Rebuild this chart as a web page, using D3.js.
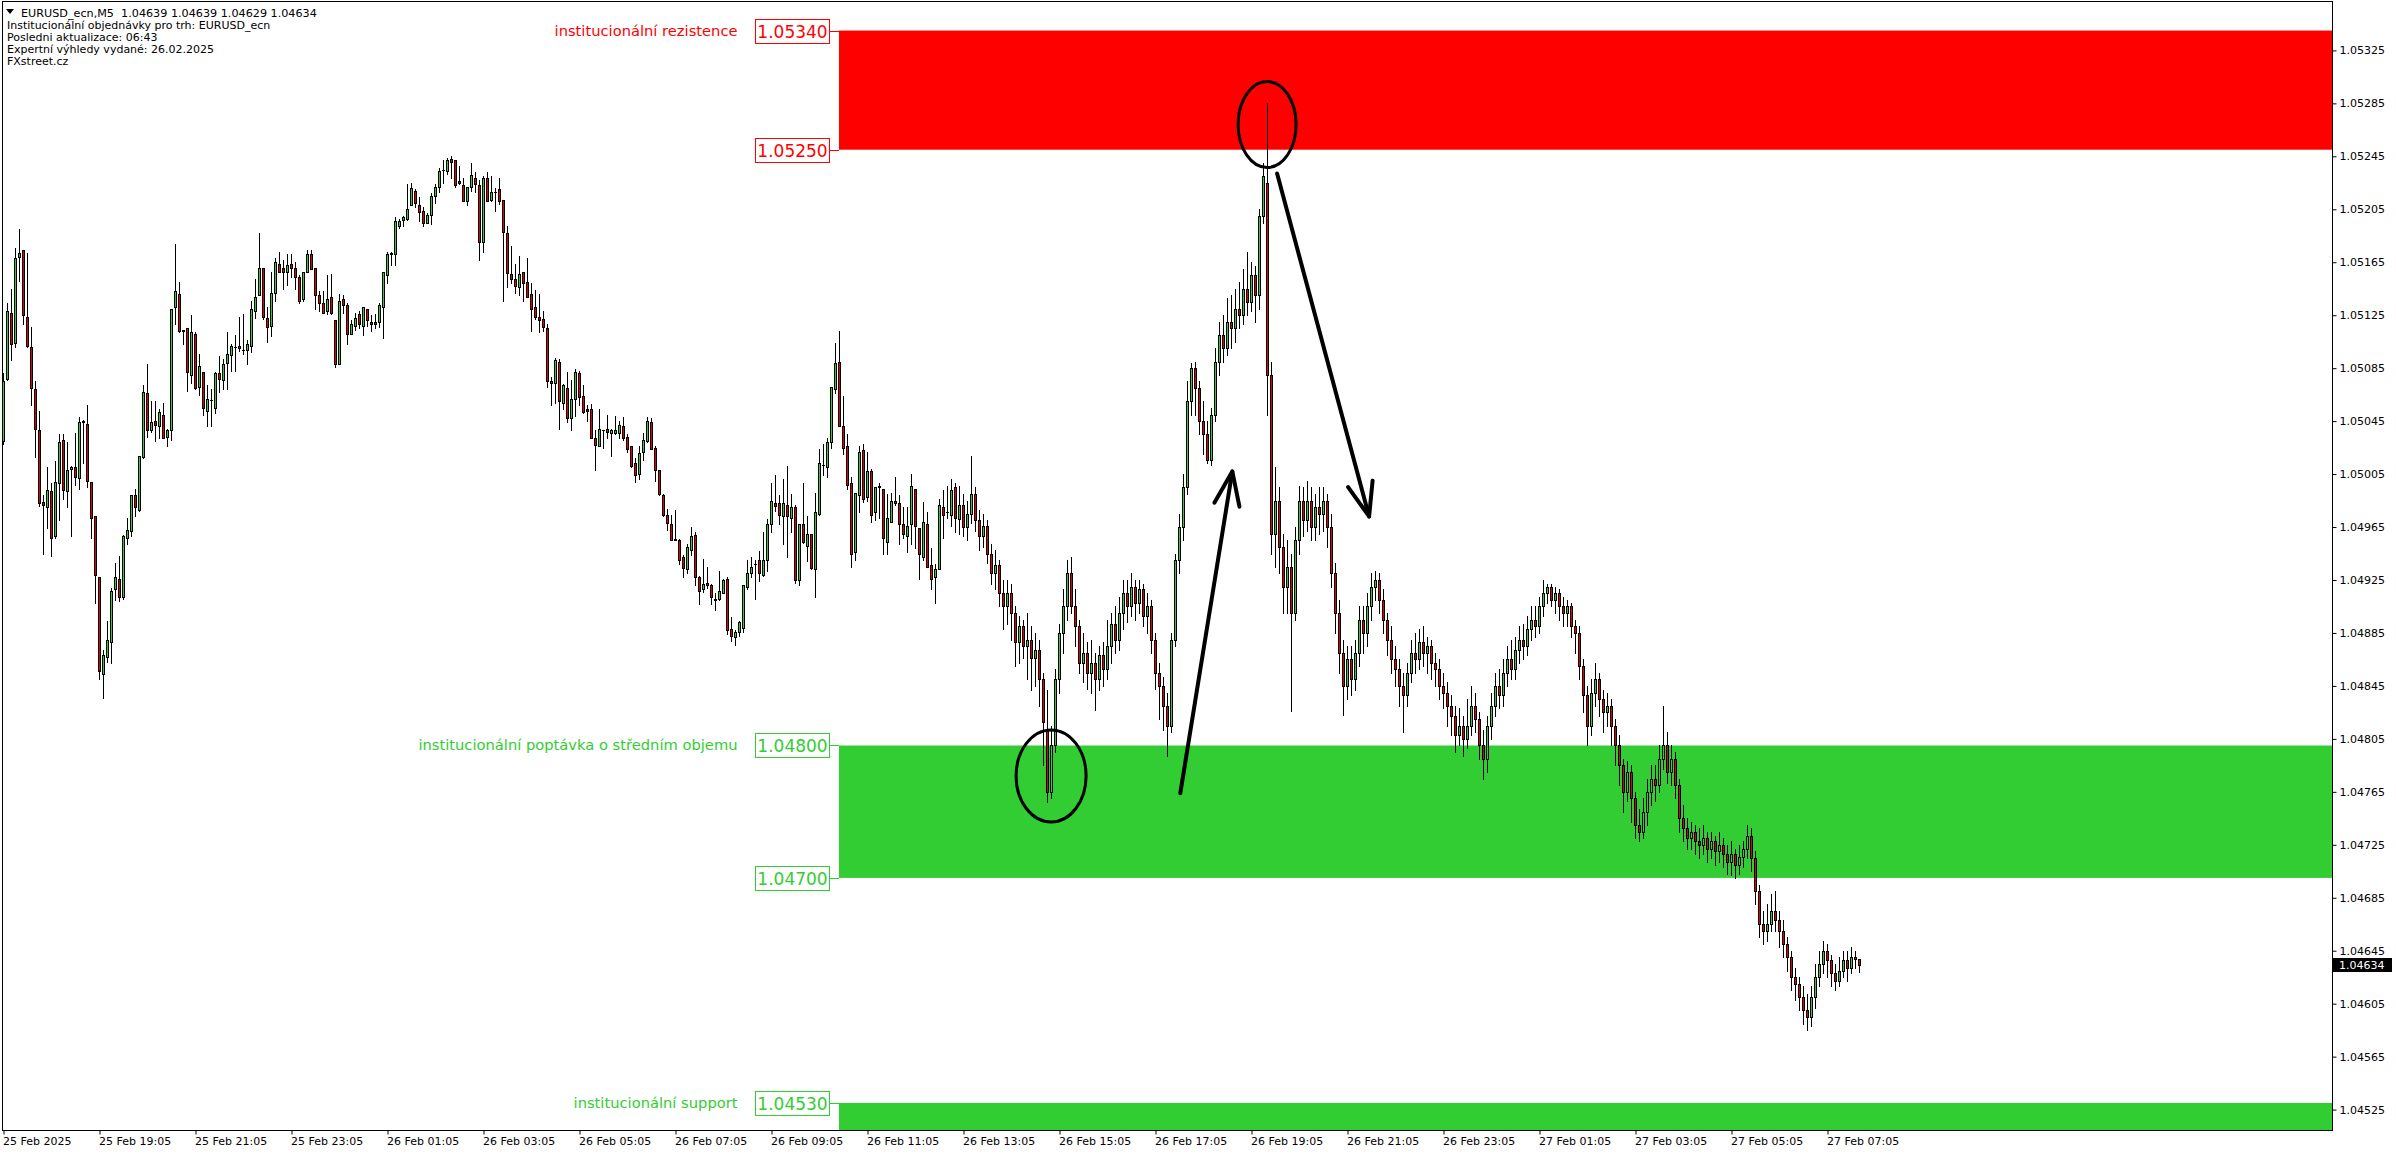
<!DOCTYPE html>
<html><head><meta charset="utf-8">
<script src="https://cdn.jsdelivr.net/npm/d3@7/dist/d3.min.js"></script>
<style>html,body{margin:0;padding:0;background:#fff;overflow:hidden}text{white-space:pre}</style>
</head><body>
<svg id="chart" width="2396" height="1154"></svg>
<script>
// ---------- DATA (EURUSD_ecn M5, first bar 25 Feb 17:05) ----------
const opens = [
1.05030,1.05077,1.05127,1.05104,1.05169,1.05174,1.05124,1.05101,1.05069,1.05038,
1.04984,1.04980,1.04992,1.04958,1.04998,1.05031,1.04992,1.05009,1.05010,1.05002,
1.05044,1.05043,1.04999,1.04973,1.04927,1.04854,1.04867,1.04878,1.04918,1.04926,
1.04912,1.04957,1.04962,1.04989,1.04978,1.05018,1.05066,1.05038,1.05045,1.05041,
1.05050,1.05033,1.05038,1.05131,1.05141,1.05114,1.05115,1.05080,1.05111,1.05071,
1.05082,1.05053,1.05061,1.05055,1.05081,1.05076,1.05089,1.05095,1.05101,1.05102,
1.05099,1.05099,1.05102,1.05128,1.05140,1.05161,1.05123,1.05117,1.05142,1.05164,
1.05161,1.05158,1.05164,1.05161,1.05154,1.05137,1.05158,1.05171,1.05161,1.05140,
1.05134,1.05128,1.05139,1.05121,1.05088,1.05137,1.05133,1.05111,1.05117,1.05126,
1.05117,1.05130,1.05120,1.05120,1.05120,1.05131,1.05155,1.05171,1.05171,1.05192,
1.05197,1.05198,1.05208,1.05219,1.05208,1.05204,1.05195,1.05201,1.05215,1.05222,
1.05235,1.05234,1.05243,1.05242,1.05226,1.05223,1.05211,1.05222,1.05229,1.05223,
1.05180,1.05229,1.05212,1.05218,1.05220,1.05212,1.05187,1.05156,1.05152,1.05146,
1.05158,1.05150,1.05141,1.05131,1.05124,1.05122,1.05115,1.05075,1.05074,1.05090,
1.05059,1.05070,1.05047,1.05062,1.05081,1.05064,1.05054,1.05054,1.05032,1.05026,
1.05038,1.05039,1.05036,1.05036,1.05036,1.05041,1.05033,1.05026,1.05013,1.05005,
1.05022,1.05030,1.05044,1.05025,1.05008,1.04989,1.04974,1.04967,1.04956,1.04955,
1.04942,1.04933,1.04948,1.04959,1.04927,1.04918,1.04923,1.04921,1.04911,1.04911,
1.04915,1.04926,1.04888,1.04882,1.04886,1.04889,1.04920,1.04930,1.04937,1.04940,
1.04929,1.04940,1.04967,1.04983,1.04983,1.04973,1.04982,1.04972,1.04980,1.04925,
1.04967,1.04951,1.04960,1.04933,1.04975,1.05012,1.05010,1.05029,1.05069,1.05090,
1.05041,1.05026,1.04998,1.04946,1.04989,1.05023,1.04988,1.05007,1.04976,1.04996,
1.04994,1.04954,1.04969,1.04985,1.04983,1.04967,1.04958,1.04967,1.04994,1.04964,
1.04942,1.04967,1.04936,1.04927,1.04933,1.04980,1.04976,1.04974,1.04995,1.04971,
1.04982,1.04965,1.04975,1.04990,1.04970,1.04958,1.04966,1.04945,1.04930,1.04936,
1.04915,1.04905,1.04915,1.04900,1.04878,1.04890,1.04875,1.04880,1.04866,1.04872,
1.04850,1.04812,1.04765,1.04800,1.04850,1.04885,1.04905,1.04930,1.04905,1.04890,
1.04862,1.04870,1.04855,1.04862,1.04850,1.04868,1.04858,1.04875,1.04892,1.04880,
1.04900,1.04915,1.04905,1.04920,1.04908,1.04918,1.04898,1.04905,1.04880,1.04855,
1.04845,1.04830,1.04815,1.04880,1.04940,1.04965,1.04995,1.05060,1.05085,1.05070,
1.05045,1.05035,1.05016,1.05050,1.05090,1.05110,1.05100,1.05120,1.05115,1.05130,
1.05125,1.05145,1.05135,1.05155,1.05140,1.05200,1.05225,1.05080,1.04960,1.04985,
1.04950,1.04920,1.04935,1.04900,1.04955,1.04985,1.04970,1.04985,1.04965,1.04980,
1.04975,1.04985,1.04965,1.04930,1.04900,1.04870,1.04845,1.04865,1.04850,1.04870,
1.04895,1.04885,1.04905,1.04920,1.04925,1.04910,1.04895,1.04880,1.04865,1.04858,
1.04845,1.04838,1.04855,1.04870,1.04865,1.04878,1.04870,1.04875,1.04862,1.04858,
1.04845,1.04840,1.04830,1.04822,1.04808,1.04815,1.04805,1.04815,1.04830,1.04820,
1.04800,1.04790,1.04815,1.04830,1.04845,1.04838,1.04855,1.04865,1.04858,1.04872,
1.04880,1.04875,1.04888,1.04895,1.04890,1.04905,1.04915,1.04920,1.04910,1.04915,
1.04905,1.04900,1.04905,1.04890,1.04885,1.04860,1.04838,1.04815,1.04840,1.04850,
1.04835,1.04825,1.04830,1.04815,1.04800,1.04785,1.04765,1.04780,1.04760,1.04740,
1.04735,1.04750,1.04765,1.04775,1.04770,1.04790,1.04800,1.04780,1.04790,1.04770,
1.04745,1.04738,1.04730,1.04735,1.04728,1.04725,1.04730,1.04722,1.04728,1.04720,
1.04725,1.04718,1.04712,1.04718,1.04710,1.04716,1.04722,1.04732,1.04715,1.04690,
1.04665,1.04660,1.04665,1.04675,1.04668,1.04660,1.04650,1.04640,1.04625,1.04620,
1.04610,1.04600,1.04595,1.04610,1.04625,1.04635,1.04645,1.04638,1.04628,1.04622,
1.04630,1.04638,1.04632,1.04640,1.04639];
const highs = [
1.05081,1.05134,1.05145,1.05176,1.05190,1.05174,1.05172,1.05116,1.05075,1.05053,
1.04989,1.05010,1.04998,1.05015,1.05035,1.05035,1.05029,1.05011,1.05036,1.05048,
1.05046,1.05057,1.04999,1.04973,1.04927,1.04872,1.04894,1.04919,1.04938,1.04943,
1.04959,1.04972,1.04989,1.04994,1.05019,1.05072,1.05088,1.05060,1.05060,1.05054,
1.05059,1.05039,1.05130,1.05179,1.05150,1.05114,1.05115,1.05125,1.05112,1.05096,
1.05082,1.05072,1.05069,1.05082,1.05094,1.05092,1.05112,1.05103,1.05110,1.05124,
1.05126,1.05106,1.05136,1.05152,1.05187,1.05161,1.05131,1.05158,1.05168,1.05173,
1.05167,1.05171,1.05171,1.05165,1.05155,1.05158,1.05174,1.05174,1.05161,1.05143,
1.05143,1.05155,1.05156,1.05121,1.05141,1.05140,1.05134,1.05121,1.05127,1.05128,
1.05131,1.05130,1.05125,1.05126,1.05134,1.05158,1.05173,1.05173,1.05199,1.05198,
1.05200,1.05224,1.05225,1.05220,1.05214,1.05207,1.05202,1.05217,1.05224,1.05236,
1.05242,1.05244,1.05245,1.05242,1.05238,1.05229,1.05222,1.05240,1.05233,1.05227,
1.05230,1.05233,1.05230,1.05221,1.05229,1.05212,1.05192,1.05177,1.05164,1.05170,
1.05158,1.05168,1.05149,1.05144,1.05141,1.05128,1.05118,1.05078,1.05093,1.05092,
1.05073,1.05082,1.05076,1.05084,1.05083,1.05072,1.05057,1.05058,1.05038,1.05054,
1.05038,1.05050,1.05039,1.05049,1.05045,1.05048,1.05035,1.05026,1.05017,1.05026,
1.05036,1.05048,1.05047,1.05026,1.05008,1.04990,1.04979,1.04974,1.04978,1.04956,
1.04944,1.04952,1.04965,1.04961,1.04928,1.04941,1.04935,1.04922,1.04915,1.04932,
1.04926,1.04927,1.04897,1.04887,1.04894,1.04921,1.04940,1.04942,1.04940,1.04947,
1.04961,1.04971,1.04998,1.05004,1.04989,1.05001,1.05011,1.04990,1.04982,1.04967,
1.04998,1.04973,1.04960,1.04991,1.05024,1.05028,1.05032,1.05071,1.05104,1.05113,
1.05064,1.05035,1.05003,1.04991,1.05026,1.05028,1.05022,1.05009,1.04995,1.04998,
1.04994,1.04990,1.04991,1.05003,1.04989,1.04980,1.04980,1.05005,1.04994,1.04964,
1.04984,1.04976,1.04949,1.04937,1.04986,1.04993,1.04996,1.05001,1.04998,1.04996,
1.04990,1.04985,1.05019,1.04995,1.04978,1.04975,1.04970,1.04952,1.04948,1.04940,
1.04925,1.04925,1.04922,1.04905,1.04898,1.04895,1.04900,1.04890,1.04885,1.04880,
1.04855,1.04842,1.04815,1.04858,1.04892,1.04918,1.04940,1.04942,1.04918,1.04895,
1.04885,1.04878,1.04880,1.04870,1.04875,1.04878,1.04895,1.04900,1.04905,1.04912,
1.04925,1.04925,1.04930,1.04925,1.04925,1.04922,1.04915,1.04910,1.04885,1.04862,
1.04852,1.04840,1.04885,1.04945,1.04975,1.05005,1.05075,1.05089,1.05090,1.05075,
1.05060,1.05045,1.05055,1.05100,1.05120,1.05125,1.05138,1.05140,1.05145,1.05150,
1.05160,1.05173,1.05165,1.05162,1.05205,1.05240,1.05285,1.05090,1.05010,1.04995,
1.04960,1.04955,1.04945,1.04965,1.04996,1.04995,1.05000,1.04995,1.04990,1.04995,
1.04995,1.04990,1.04975,1.04938,1.04910,1.04880,1.04875,1.04875,1.04880,1.04905,
1.04905,1.04915,1.04930,1.04932,1.04930,1.04918,1.04900,1.04890,1.04875,1.04865,
1.04855,1.04862,1.04880,1.04885,1.04888,1.04890,1.04882,1.04880,1.04870,1.04865,
1.04855,1.04848,1.04838,1.04830,1.04828,1.04822,1.04835,1.04845,1.04840,1.04825,
1.04812,1.04822,1.04840,1.04855,1.04858,1.04865,1.04875,1.04880,1.04882,1.04890,
1.04892,1.04898,1.04905,1.04905,1.04912,1.04925,1.04922,1.04922,1.04920,1.04918,
1.04912,1.04910,1.04908,1.04895,1.04890,1.04865,1.04845,1.04850,1.04862,1.04855,
1.04842,1.04840,1.04835,1.04820,1.04808,1.04790,1.04788,1.04785,1.04765,1.04752,
1.04760,1.04775,1.04785,1.04785,1.04800,1.04830,1.04810,1.04800,1.04795,1.04775,
1.04755,1.04745,1.04742,1.04740,1.04738,1.04740,1.04735,1.04735,1.04732,1.04735,
1.04730,1.04725,1.04728,1.04722,1.04725,1.04728,1.04740,1.04738,1.04720,1.04695,
1.04675,1.04680,1.04688,1.04690,1.04675,1.04668,1.04655,1.04645,1.04632,1.04625,
1.04618,1.04612,1.04618,1.04635,1.04645,1.04652,1.04650,1.04642,1.04635,1.04640,
1.04645,1.04645,1.04648,1.04645,1.04639];
const lows = [
1.05028,1.05076,1.05091,1.05101,1.05151,1.05118,1.05101,1.05057,1.05018,1.04981,
1.04945,1.04964,1.04943,1.04957,1.04970,1.04986,1.04980,1.04958,1.04997,1.04994,
1.05013,1.04995,1.04957,1.04908,1.04850,1.04836,1.04863,1.04862,1.04910,1.04909,
1.04911,1.04952,1.04958,1.04973,1.04977,1.05017,1.05033,1.05037,1.05030,1.05032,
1.05032,1.05026,1.05031,1.05118,1.05112,1.05103,1.05068,1.05074,1.05069,1.05065,
1.05050,1.05041,1.05041,1.05051,1.05067,1.05069,1.05069,1.05083,1.05083,1.05098,
1.05096,1.05088,1.05097,1.05123,1.05140,1.05122,1.05105,1.05109,1.05136,1.05158,
1.05145,1.05148,1.05154,1.05145,1.05134,1.05136,1.05158,1.05160,1.05130,1.05128,
1.05127,1.05126,1.05126,1.05086,1.05088,1.05127,1.05103,1.05111,1.05114,1.05115,
1.05110,1.05117,1.05113,1.05115,1.05116,1.05108,1.05149,1.05163,1.05163,1.05191,
1.05192,1.05197,1.05208,1.05207,1.05196,1.05192,1.05195,1.05194,1.05210,1.05218,
1.05225,1.05232,1.05229,1.05222,1.05224,1.05211,1.05208,1.05219,1.05218,1.05167,
1.05173,1.05211,1.05211,1.05204,1.05209,1.05136,1.05146,1.05149,1.05142,1.05140,
1.05136,1.05139,1.05113,1.05122,1.05112,1.05113,1.05071,1.05057,1.05059,1.05039,
1.05054,1.05044,1.05038,1.05049,1.05057,1.05051,1.05045,1.05032,1.05008,1.05026,
1.05025,1.05032,1.05019,1.05035,1.05032,1.05031,1.05022,1.05010,1.04999,1.05001,
1.05016,1.05029,1.05024,1.05000,1.04989,1.04973,1.04963,1.04955,1.04955,1.04937,
1.04927,1.04930,1.04944,1.04921,1.04907,1.04916,1.04919,1.04907,1.04902,1.04910,
1.04915,1.04884,1.04879,1.04876,1.04883,1.04886,1.04918,1.04927,1.04911,1.04924,
1.04928,1.04932,1.04961,1.04977,1.04967,1.04952,1.04942,1.04961,1.04923,1.04921,
1.04953,1.04939,1.04933,1.04912,1.04974,1.05004,1.05003,1.05025,1.05066,1.05041,
1.05020,1.04994,1.04935,1.04940,1.04976,1.04984,1.04985,1.04969,1.04970,1.04972,
1.04945,1.04945,1.04969,1.04982,1.04952,1.04957,1.04946,1.04952,1.04949,1.04926,
1.04940,1.04935,1.04918,1.04908,1.04933,1.04957,1.04972,1.04966,1.04961,1.04960,
1.04958,1.04955,1.04968,1.04962,1.04948,1.04950,1.04938,1.04922,1.04918,1.04905,
1.04888,1.04892,1.04880,1.04860,1.04862,1.04866,1.04850,1.04842,1.04845,1.04830,
1.04785,1.04757,1.04760,1.04795,1.04840,1.04870,1.04895,1.04900,1.04875,1.04855,
1.04848,1.04843,1.04840,1.04827,1.04842,1.04845,1.04850,1.04862,1.04870,1.04872,
1.04888,1.04893,1.04898,1.04895,1.04900,1.04890,1.04885,1.04870,1.04843,1.04820,
1.04812,1.04792,1.04810,1.04875,1.04930,1.04955,1.04990,1.05050,1.05050,1.05035,
1.05020,1.05013,1.05012,1.05045,1.05080,1.05090,1.05095,1.05100,1.05105,1.05115,
1.05118,1.05125,1.05128,1.05120,1.05130,1.05195,1.05050,1.04945,1.04935,1.04930,
1.04900,1.04900,1.04826,1.04895,1.04945,1.04958,1.04962,1.04955,1.04955,1.04960,
1.04962,1.04950,1.04920,1.04885,1.04855,1.04823,1.04835,1.04838,1.04842,1.04860,
1.04870,1.04875,1.04895,1.04910,1.04900,1.04885,1.04868,1.04855,1.04845,1.04830,
1.04810,1.04830,1.04848,1.04855,1.04858,1.04860,1.04855,1.04850,1.04845,1.04835,
1.04828,1.04815,1.04808,1.04795,1.04800,1.04792,1.04798,1.04808,1.04810,1.04790,
1.04775,1.04780,1.04805,1.04822,1.04828,1.04830,1.04845,1.04850,1.04850,1.04862,
1.04865,1.04868,1.04880,1.04882,1.04885,1.04898,1.04908,1.04905,1.04900,1.04895,
1.04890,1.04890,1.04882,1.04870,1.04850,1.04825,1.04800,1.04808,1.04830,1.04822,
1.04810,1.04815,1.04800,1.04785,1.04770,1.04750,1.04758,1.04742,1.04730,1.04728,
1.04730,1.04740,1.04755,1.04758,1.04765,1.04782,1.04772,1.04770,1.04760,1.04735,
1.04728,1.04722,1.04722,1.04718,1.04715,1.04718,1.04712,1.04715,1.04710,1.04712,
1.04708,1.04703,1.04702,1.04700,1.04703,1.04708,1.04715,1.04705,1.04680,1.04655,
1.04650,1.04652,1.04660,1.04660,1.04648,1.04640,1.04630,1.04615,1.04608,1.04600,
1.04590,1.04585,1.04588,1.04602,1.04618,1.04628,1.04625,1.04618,1.04615,1.04618,
1.04625,1.04622,1.04628,1.04632,1.04629];
const closes = [
1.05075,1.05128,1.05103,1.05168,1.05172,1.05125,1.05102,1.05070,1.05039,1.04983,
1.04982,1.04993,1.04957,1.04999,1.05029,1.04993,1.05008,1.05010,1.05003,1.05044,
1.05045,1.05000,1.04972,1.04929,1.04856,1.04868,1.04880,1.04917,1.04927,1.04912,
1.04958,1.04963,1.04989,1.04980,1.05019,1.05067,1.05038,1.05044,1.05042,1.05052,
1.05032,1.05038,1.05130,1.05143,1.05113,1.05113,1.05082,1.05112,1.05070,1.05087,
1.05055,1.05062,1.05061,1.05081,1.05077,1.05088,1.05096,1.05102,1.05101,1.05100,
1.05099,1.05103,1.05130,1.05139,1.05161,1.05124,1.05116,1.05142,1.05165,1.05158,
1.05158,1.05163,1.05161,1.05154,1.05136,1.05158,1.05171,1.05160,1.05140,1.05134,
1.05127,1.05137,1.05127,1.05088,1.05136,1.05133,1.05111,1.05118,1.05123,1.05118,
1.05131,1.05121,1.05118,1.05118,1.05133,1.05158,1.05171,1.05172,1.05196,1.05196,
1.05199,1.05205,1.05221,1.05210,1.05203,1.05195,1.05201,1.05215,1.05222,1.05234,
1.05235,1.05242,1.05241,1.05223,1.05225,1.05211,1.05222,1.05231,1.05224,1.05180,
1.05229,1.05211,1.05218,1.05218,1.05211,1.05188,1.05157,1.05152,1.05147,1.05156,
1.05149,1.05139,1.05130,1.05124,1.05121,1.05116,1.05075,1.05074,1.05091,1.05060,
1.05072,1.05047,1.05062,1.05082,1.05063,1.05052,1.05053,1.05032,1.05027,1.05039,
1.05038,1.05037,1.05038,1.05038,1.05042,1.05032,1.05024,1.05011,1.05004,1.05021,
1.05031,1.05045,1.05024,1.05008,1.04990,1.04974,1.04968,1.04955,1.04955,1.04940,
1.04934,1.04950,1.04958,1.04927,1.04917,1.04922,1.04921,1.04912,1.04910,1.04917,
1.04925,1.04887,1.04883,1.04886,1.04893,1.04921,1.04930,1.04935,1.04937,1.04930,
1.04940,1.04967,1.04985,1.04981,1.04974,1.04983,1.04973,1.04980,1.04925,1.04967,
1.04954,1.04960,1.04934,1.04976,1.05013,1.05012,1.05029,1.05071,1.05089,1.05041,
1.05025,1.04997,1.04945,1.04991,1.05022,1.04986,1.05007,1.04974,1.04995,1.04995,
1.04957,1.04972,1.04985,1.04983,1.04967,1.04960,1.04966,1.04996,1.04966,1.04945,
1.04969,1.04935,1.04926,1.04933,1.04982,1.04974,1.04976,1.04993,1.04972,1.04982,
1.04965,1.04975,1.04990,1.04970,1.04958,1.04966,1.04945,1.04930,1.04936,1.04915,
1.04905,1.04915,1.04900,1.04878,1.04890,1.04875,1.04880,1.04866,1.04872,1.04850,
1.04818,1.04765,1.04800,1.04850,1.04885,1.04905,1.04930,1.04905,1.04890,1.04862,
1.04870,1.04855,1.04862,1.04850,1.04868,1.04858,1.04875,1.04892,1.04880,1.04900,
1.04915,1.04905,1.04920,1.04908,1.04918,1.04898,1.04905,1.04880,1.04855,1.04845,
1.04830,1.04815,1.04880,1.04940,1.04965,1.04995,1.05060,1.05085,1.05070,1.05045,
1.05035,1.05016,1.05050,1.05090,1.05110,1.05100,1.05120,1.05115,1.05130,1.05125,
1.05145,1.05135,1.05155,1.05140,1.05200,1.05230,1.05080,1.04960,1.04985,1.04950,
1.04920,1.04935,1.04900,1.04955,1.04985,1.04970,1.04985,1.04965,1.04980,1.04975,
1.04985,1.04965,1.04930,1.04900,1.04870,1.04845,1.04865,1.04850,1.04870,1.04895,
1.04885,1.04905,1.04920,1.04925,1.04910,1.04895,1.04880,1.04865,1.04858,1.04845,
1.04838,1.04855,1.04870,1.04865,1.04878,1.04870,1.04875,1.04862,1.04858,1.04845,
1.04840,1.04830,1.04822,1.04808,1.04815,1.04805,1.04815,1.04830,1.04820,1.04800,
1.04790,1.04815,1.04830,1.04845,1.04838,1.04855,1.04865,1.04858,1.04872,1.04880,
1.04875,1.04888,1.04895,1.04890,1.04905,1.04915,1.04920,1.04910,1.04915,1.04905,
1.04900,1.04905,1.04890,1.04885,1.04860,1.04838,1.04815,1.04840,1.04850,1.04835,
1.04825,1.04830,1.04815,1.04800,1.04785,1.04765,1.04780,1.04760,1.04740,1.04735,
1.04750,1.04765,1.04775,1.04770,1.04790,1.04800,1.04780,1.04790,1.04770,1.04745,
1.04738,1.04730,1.04735,1.04728,1.04725,1.04730,1.04722,1.04728,1.04720,1.04725,
1.04718,1.04712,1.04718,1.04710,1.04716,1.04722,1.04732,1.04715,1.04690,1.04665,
1.04660,1.04665,1.04675,1.04668,1.04660,1.04650,1.04640,1.04625,1.04620,1.04610,
1.04600,1.04595,1.04610,1.04625,1.04635,1.04645,1.04638,1.04628,1.04622,1.04630,
1.04638,1.04632,1.04640,1.04639,1.04634];

// time axis labels every 24 bars (2 hours)
const timeLabels = ["25 Feb 2025","25 Feb 19:05","25 Feb 21:05","25 Feb 23:05","26 Feb 01:05","26 Feb 03:05",
  "26 Feb 05:05","26 Feb 07:05","26 Feb 09:05","26 Feb 11:05","26 Feb 13:05","26 Feb 15:05","26 Feb 17:05",
  "26 Feb 19:05","26 Feb 21:05","26 Feb 23:05","27 Feb 01:05","27 Feb 03:05","27 Feb 05:05","27 Feb 07:05"];
const barsPerLabel = 24;
const priceTicks = [1.04525,1.04565,1.04605,1.04645,1.04685,1.04725,1.04765,1.04805,1.04845,1.04885,1.04925,
  1.04965,1.05005,1.05045,1.05085,1.05125,1.05165,1.05205,1.05245,1.05285,1.05325];
const lastPrice = 1.04634;

// institutional zones
const zoneNames   = ["institucionální rezistence","institucionální poptávka o středním objemu","institucionální support"];
const zoneTops    = [1.05340, 1.04800, 1.04530];
const zoneBottoms = [1.05250, 1.04700, 1.04500];
const zoneTopTags = ["1.05340","1.04800","1.04530"];
const zoneBottomTags = ["1.05250","1.04700",null];
const zoneColors  = ["#ff0000","#32cd32","#32cd32"];
const zoneStartBar = 209;

// hand-drawn annotations (bar index, price)
const ellipseBars = [261.9, 315.9], ellipsePrices = [1.04777, 1.05269];
const arrowFromBars = [294.2, 318.4], arrowFromPrices = [1.04764, 1.05232];
const arrowToBars = [307.2, 341.4], arrowToPrices = [1.05007, 1.04973];

const titleLine = "EURUSD_ecn,M5  1.04639 1.04639 1.04629 1.04634";
const infoLines = ["Institucionální objednávky pro trh: EURUSD_ecn","Posledni aktualizace: 06:43",
  "Expertní výhledy vydané: 26.02.2025","FXstreet.cz"];

// ---------- LAYOUT ----------
const plotL = 2, plotR = 2332, plotT = 1, plotB = 1130;
const FONT = "'DejaVu Sans', Verdana, sans-serif";
const svg = d3.select("#chart");
svg.append("rect").attr("width",2396).attr("height",1154).attr("fill","#fff");

const x = d3.scaleLinear().domain([0, 582]).range([3.5, 3.5 + 4*582]);
const y = d3.scaleLinear().domain([1.0450959, 1.0536156]).range([plotB, 2]);

svg.append("clipPath").attr("id","plotclip").append("rect")
  .attr("x",plotL+1).attr("y",plotT+1).attr("width",plotR-plotL-1).attr("height",plotB-plotT-1);
const plot = svg.append("g").attr("clip-path","url(#plotclip)");

// zones
const zx0 = x(zoneStartBar) - 0.5;
zoneNames.forEach((name,i)=>{
  const yt = y(zoneTops[i]), yb = y(zoneBottoms[i]);
  plot.append("rect").attr("x",zx0).attr("y",yt).attr("width",plotR-zx0).attr("height",yb-yt)
    .attr("fill",zoneColors[i]);
});

// candles
const cg = plot.append("g");
opens.forEach((o,i)=>{
  const c = closes[i];
  const h = Math.max(highs[i],o,c), l = Math.min(lows[i],o,c);
  const cx = Math.round(x(i) - 0.5);
  const yh = Math.round(y(h)), yl = Math.round(y(l));
  cg.append("rect").attr("x",cx).attr("y",yh).attr("width",1).attr("height",Math.max(1,yl-yh+1)).attr("fill","#000");
  const yt = Math.round(y(Math.max(o,c))), yb = Math.round(y(Math.min(o,c)));
  cg.append("rect").attr("x",cx-1).attr("y",yt).attr("width",3).attr("height",Math.max(1,yb-yt+1)).attr("fill","#000");
  if (yb-yt-1 > 0) {
    cg.append("rect").attr("x",cx).attr("y",yt+1).attr("width",1).attr("height",yb-yt-1)
      .attr("fill", c >= o ? "#32cd32" : "#e00000");
  }
});

// zone labels & tags
const lg = svg.append("g");
zoneNames.forEach((name,i)=>{
  const col = zoneColors[i];
  const tags = [[zoneTops[i],zoneTopTags[i]],[zoneBottoms[i],zoneBottomTags[i]]];
  tags.forEach(([p,t],j)=>{
    if (!t) return;
    const yy = y(p);
    const bx1 = zx0 - 9.5, bx0 = bx1 - 74;
    lg.append("line").attr("x1",bx1).attr("x2",zx0).attr("y1",Math.round(yy)+0.5).attr("y2",Math.round(yy)+0.5)
      .attr("stroke",col).attr("stroke-width",1);
    lg.append("rect").attr("x",bx0).attr("y",Math.round(yy)-11.5).attr("width",74).attr("height",24)
      .attr("fill","#fff").attr("stroke",col).attr("stroke-width",1);
    lg.append("text").attr("x",(bx0+bx1)/2).attr("y",Math.round(yy)+7).attr("text-anchor","middle")
      .attr("font-family",FONT).attr("font-size",17).attr("fill",col).text(t);
    if (j===0) {
      lg.append("text").attr("x",bx0-18).attr("y",Math.round(yy)+5).attr("text-anchor","end")
        .attr("font-family",FONT).attr("font-size",14.7).attr("fill",col).text(name);
    }
  });
});

// annotations
const ag = svg.append("g").attr("fill","none").attr("stroke","#000").attr("stroke-linecap","round");
const ellR = [[35,46],[29,43]];
ellipseBars.forEach((b,i)=>{
  ag.append("ellipse").attr("cx",x(b)).attr("cy",y(ellipsePrices[i])).attr("rx",ellR[i][0]).attr("ry",ellR[i][1])
    .attr("stroke-width",3);
});
arrowFromBars.forEach((b,i)=>{
  const x1=x(b), y1=y(arrowFromPrices[i]), x2=x(arrowToBars[i]), y2=y(arrowToPrices[i]);
  ag.append("line").attr("x1",x1).attr("y1",y1).attr("x2",x2).attr("y2",y2).attr("stroke-width",4);
  const ang = Math.atan2(y1-y2, x1-x2), L = 36, spread = 0.36;
  const pts = [[x2+L*Math.cos(ang+spread), y2+L*Math.sin(ang+spread)],[x2,y2],[x2+L*Math.cos(ang-spread), y2+L*Math.sin(ang-spread)]];
  ag.append("path").attr("d", d3.line()(pts)).attr("stroke-width",4).attr("stroke-linejoin","round");
});

// border
svg.append("rect").attr("x",plotL+0.5).attr("y",plotT+0.5).attr("width",plotR-plotL).attr("height",plotB-plotT)
  .attr("fill","none").attr("stroke","#000").attr("stroke-width",1);

// price axis
const yAxis = d3.axisRight(y).tickValues(priceTicks).tickSize(4).tickPadding(3).tickFormat(d3.format(".5f"));
const ya = svg.append("g").attr("transform",`translate(${plotR+0.5},0)`).call(yAxis);
ya.select(".domain").remove();
ya.selectAll("text").attr("font-family",FONT).attr("font-size",11).attr("fill","#000");
ya.selectAll("line").attr("stroke","#000");

// time axis
const tickIdx = timeLabels.map((_,i)=>i*barsPerLabel);
const xAxis = d3.axisBottom(x).tickValues(tickIdx).tickSize(4).tickPadding(3).tickFormat((d,i)=>timeLabels[i]);
const xa = svg.append("g").attr("transform",`translate(0,${plotB+0.5})`).call(xAxis);
xa.select(".domain").remove();
xa.selectAll("text").attr("font-family",FONT).attr("font-size",11).attr("fill","#000").attr("text-anchor","start").attr("dx",-1);
xa.selectAll("line").attr("stroke","#000");

// last price marker
const ly = Math.round(y(lastPrice));
svg.append("rect").attr("x",plotR+1).attr("y",ly-7).attr("width",59).attr("height",14).attr("fill","#000");
svg.append("text").attr("x",plotR+7).attr("y",ly+4).attr("font-family",FONT).attr("font-size",11).attr("fill","#fff")
  .text(d3.format(".5f")(lastPrice));

// info text
const ig = svg.append("g").attr("font-family",FONT).attr("fill","#000");
ig.append("path").attr("d","M6,9L14,9L10,14Z").attr("fill","#000");
ig.append("text").attr("x",21).attr("y",17).attr("font-size",11.2).text(titleLine);
infoLines.forEach((t,i)=>{
  ig.append("text").attr("x",7).attr("y",29+i*12).attr("font-size",11).text(t);
});
</script>
</body></html>
